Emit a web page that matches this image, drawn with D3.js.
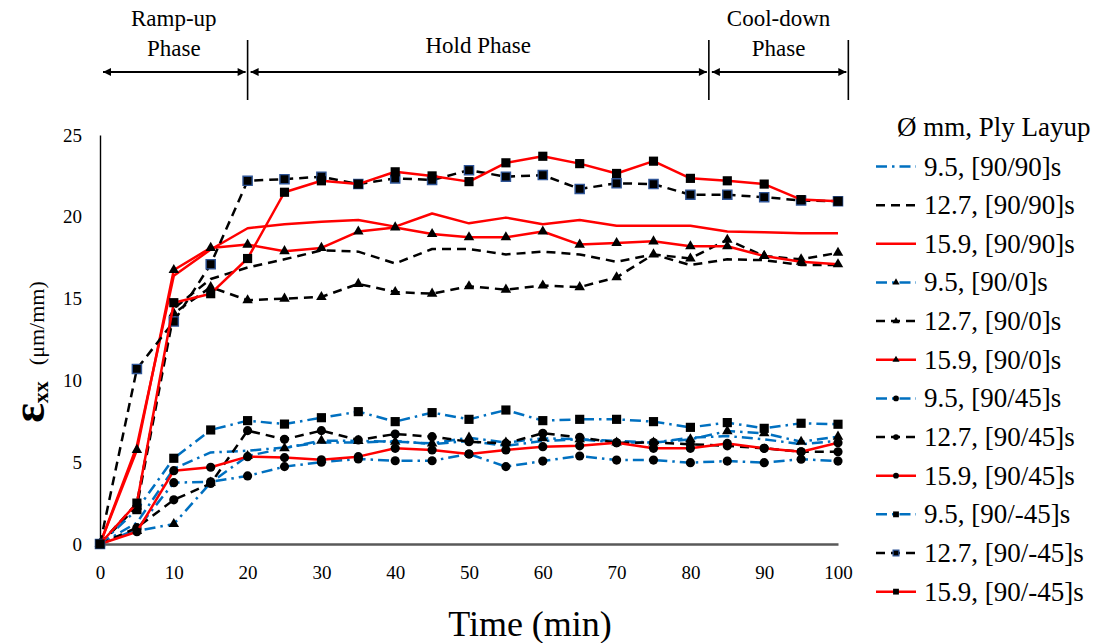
<!DOCTYPE html>
<html>
<head>
<meta charset="utf-8">
<script src="https://cdn.jsdelivr.net/npm/d3@7"></script>
<style>
  body { margin: 0; background: #fff; }
  svg { display: block; }
  text { font-family: "Liberation Serif", "Times New Roman", serif; fill: #000; }
</style>
</head>
<body>
<svg id="chart" width="1097" height="643"></svg>
<script>
// Sampling times (min)
const minutes = [0, 5, 10, 15, 20, 25, 30, 35, 40, 45, 50, 55, 60, 65, 70, 75, 80, 85, 90, 95, 100];

// Strain (µm/mm) per hole diameter and ply layup
const s95_9090   = [0, 1.3, 4.6, 5.6, 5.7, 5.9, 6.2, 6.2, 6.3, 6.1, 6.3, 6.0, 6.3, 6.4, 6.3, 6.2, 6.5, 6.6, 6.4, 6.1, 6.3];
const s127_9090  = [0, 2.5, 14.4, 16.2, 16.9, 17.4, 17.95, 17.87, 17.15, 18.03, 18.03, 17.7, 17.87, 17.7, 17.25, 17.7, 17.05, 17.4, 17.35, 17.05, 17.05];
const s159_9090  = [0, 6.0, 16.4, 18.0, 19.3, 19.55, 19.7, 19.8, 19.4, 20.2, 19.6, 19.95, 19.55, 19.8, 19.45, 19.45, 19.45, 19.1, 19.05, 19.0, 19.0];
const s95_900    = [0, 0.8, 1.22, 3.75, 5.38, 5.85, 6.32, 6.3, 6.25, 6.15, 6.5, 6.2, 6.46, 6.4, 6.2, 6.2, 6.4, 6.9, 6.77, 6.25, 6.56];
const s127_900   = [0, 2.3, 14.1, 15.7, 14.9, 15.0, 15.1, 15.9, 15.4, 15.3, 15.75, 15.55, 15.8, 15.7, 16.3, 17.7, 17.45, 18.6, 17.6, 17.4, 17.8];
const s159_900   = [0, 5.75, 16.75, 18.1, 18.3, 17.9, 18.1, 19.1, 19.35, 18.95, 18.75, 18.75, 19.1, 18.3, 18.4, 18.5, 18.2, 18.2, 17.6, 17.25, 17.1];
const s95_9045   = [0, 0.9, 3.75, 3.8, 4.16, 4.73, 5.0, 5.2, 5.09, 5.09, 5.5, 4.73, 5.07, 5.38, 5.13, 5.13, 4.97, 5.07, 4.97, 5.18, 5.07];
const s127_9045  = [0, 1.0, 2.7, 3.7, 6.93, 6.4, 6.93, 6.36, 6.72, 6.56, 6.25, 6.15, 6.77, 6.52, 6.19, 6.2, 6.1, 6.0, 5.85, 5.64, 5.64];
const s159_9045  = [0, 0.75, 4.48, 4.69, 5.34, 5.28, 5.15, 5.34, 5.85, 5.75, 5.5, 5.75, 5.95, 6.0, 6.19, 5.85, 5.85, 6.15, 5.85, 5.64, 6.19];
const s95_90m45  = [0, 2.1, 5.24, 6.97, 7.54, 7.33, 7.72, 8.09, 7.48, 8.03, 7.62, 8.19, 7.54, 7.62, 7.62, 7.48, 7.13, 7.42, 7.07, 7.38, 7.32];
const s127_90m45 = [0, 10.7, 13.6, 17.1, 22.2, 22.3, 22.45, 22.0, 22.35, 22.25, 22.85, 22.45, 22.55, 21.7, 22.05, 22.0, 21.35, 21.35, 21.2, 21.0, 20.95];
const s159_90m45 = [0, 2.5, 14.75, 15.3, 17.45, 21.5, 22.2, 22.0, 22.75, 22.5, 22.15, 23.3, 23.7, 23.25, 22.65, 23.4, 22.35, 22.2, 22.0, 21.05, 20.95];

const seriesNames = [
  "9.5, [90/90]s", "12.7, [90/90]s", "15.9, [90/90]s",
  "9.5, [90/0]s", "12.7, [90/0]s", "15.9, [90/0]s",
  "9.5, [90/45]s", "12.7, [90/45]s", "15.9, [90/45]s",
  "9.5, [90/-45]s", "12.7, [90/-45]s", "15.9, [90/-45]s"
];
const seriesValues = [
  s95_9090, s127_9090, s159_9090,
  s95_900, s127_900, s159_900,
  s95_9045, s127_9045, s159_9045,
  s95_90m45, s127_90m45, s159_90m45
];

const xTicks = [0, 10, 20, 30, 40, 50, 60, 70, 80, 90, 100];
const yTicks = [0, 5, 10, 15, 20, 25];

// Test phases: boundaries in minutes and their captions
const phaseBounds = [0, 20, 82.5, 101.4];
const phaseNames = [["Ramp-up", "Phase"], ["Hold Phase"], ["Cool-down", "Phase"]];

// Line style by diameter, marker by layup
const diameterStyle = {
  "9.5":  { color: "#0070c0", dash: "11,5,2.5,5" },
  "12.7": { color: "#000000", dash: "9,6" },
  "15.9": { color: "#ff0000", dash: null }
};
const layupMarker = { "[90/90]s": null, "[90/0]s": "triangle", "[90/45]s": "circle", "[90/-45]s": "square" };

const series = seriesNames.map((name, i) => {
  const [dia, layup] = name.split(", ");
  return {
    name,
    dia,
    values: seriesValues[i],
    ...diameterStyle[dia],
    marker: layupMarker[layup]
  };
});

const svg = d3.select("#chart");
const x = d3.scaleLinear().domain([0, 100]).range([100, 838]);
const y = d3.scaleLinear().domain([0, 25]).range([544, 135]);

// Axes
const xAxis = svg.append("g")
  .attr("transform", `translate(0,${y(0)})`)
  .call(d3.axisBottom(x).tickValues(xTicks).tickSize(0).tickSizeOuter(0).tickPadding(22));
xAxis.select(".domain").attr("stroke", "#595959").attr("stroke-width", 2.4);
xAxis.selectAll("text").style("font-size", "19px").style("font-family", "'Liberation Serif', serif");

const yAxis = svg.append("g")
  .attr("transform", `translate(${x(0)},0)`)
  .call(d3.axisLeft(y).tickValues(yTicks).tickSize(0).tickSizeOuter(0).tickPadding(18));
yAxis.select(".domain").attr("stroke", "#000").attr("stroke-width", 1.4);
yAxis.selectAll("text").style("font-size", "19px").style("font-family", "'Liberation Serif', serif");

// Axis titles
svg.append("text")
  .attr("x", 530).attr("y", 636)
  .attr("text-anchor", "middle")
  .style("font-size", "36px")
  .text("Time (min)");

const yTitle = svg.append("text")
  .attr("transform", `translate(44,352) rotate(-90)`)
  .attr("text-anchor", "middle");
yTitle.append("tspan").style("font-size", "46px").style("font-weight", "bold").text("ε");
yTitle.append("tspan").style("font-size", "22px").style("font-weight", "bold").attr("dy", 4).text("xx");
yTitle.append("tspan").style("font-size", "22px").attr("dy", -4).attr("dx", 16).text("(μm/mm)");

// Marker symbols
const symbolFor = {
  triangle: d3.symbol(d3.symbolTriangle, 48),
  circle: d3.symbol(d3.symbolCircle, 66),
  square: d3.symbol(d3.symbolSquare, 84)
};
const legendSymbolFor = {
  triangle: d3.symbol(d3.symbolTriangle, 22),
  circle: d3.symbol(d3.symbolCircle, 26),
  square: d3.symbol(d3.symbolSquare, 34)
};

const line = d3.line().x((d, i) => x(minutes[i])).y(d => y(d));

// Series lines and markers (later series drawn on top)
const plot = svg.append("g");
series.forEach(s => {
  const g = plot.append("g");
  g.append("path")
    .attr("d", line(s.values))
    .attr("fill", "none")
    .attr("stroke", s.color)
    .attr("stroke-width", 2.5)
    .attr("stroke-dasharray", s.dash)
    .attr("stroke-linejoin", "round");
  if (s.marker) {
    g.selectAll("path.mk")
      .data(s.values)
      .join("path")
      .attr("class", "mk")
      .attr("transform", (d, i) => `translate(${x(minutes[i])},${y(d)})`)
      .attr("d", symbolFor[s.marker])
      .attr("fill", "#000")
      .attr("stroke", s.dia === "12.7" && s.marker === "square" ? "#2f5597" : "none")
      .attr("stroke-width", 1.4);
  }
});

// Phase annotations above the plot
const defs = svg.append("defs");
defs.append("marker")
  .attr("id", "arrowEnd").attr("viewBox", "0 0 10 10")
  .attr("refX", 10).attr("refY", 5)
  .attr("markerWidth", 9).attr("markerHeight", 8)
  .attr("markerUnits", "userSpaceOnUse")
  .attr("orient", "auto")
  .append("path").attr("d", "M0,0L10,5L0,10Z").attr("fill", "#000");
defs.append("marker")
  .attr("id", "arrowStart").attr("viewBox", "0 0 10 10")
  .attr("refX", 0).attr("refY", 5)
  .attr("markerWidth", 9).attr("markerHeight", 8)
  .attr("markerUnits", "userSpaceOnUse")
  .attr("orient", "auto")
  .append("path").attr("d", "M10,0L0,5L10,10Z").attr("fill", "#000");

const phases = svg.append("g");
phaseBounds.slice(1).forEach(b => {
  phases.append("line")
    .attr("x1", x(b)).attr("x2", x(b))
    .attr("y1", 40).attr("y2", 100)
    .attr("stroke", "#000").attr("stroke-width", 1.6);
});
phaseNames.forEach((lines, i) => {
  const x0 = x(phaseBounds[i]), x1 = x(phaseBounds[i + 1]);
  phases.append("line")
    .attr("x1", x0 + 3).attr("x2", x1 - 2)
    .attr("y1", 72).attr("y2", 72)
    .attr("stroke", "#000").attr("stroke-width", 2)
    .attr("marker-start", "url(#arrowStart)")
    .attr("marker-end", "url(#arrowEnd)");
  const cx = (x0 + x1) / 2;
  const baselines = lines.length === 2 ? [26, 56] : [53];
  lines.forEach((t, j) => {
    phases.append("text")
      .attr("x", cx).attr("y", baselines[j])
      .attr("text-anchor", "middle")
      .style("font-size", "23px")
      .text(t);
  });
});

// Legend
const legend = svg.append("g");
legend.append("text")
  .attr("x", 897).attr("y", 136)
  .style("font-size", "27px")
  .text("Ø mm, Ply Layup");
series.forEach((s, i) => {
  const cy = 166.5 + i * 38.65;
  const g = legend.append("g");
  g.append("line")
    .attr("x1", 876).attr("x2", 916)
    .attr("y1", cy).attr("y2", cy)
    .attr("stroke", s.color)
    .attr("stroke-width", 2.5)
    .attr("stroke-dasharray", s.dash);
  if (s.marker) {
    g.append("path")
      .attr("transform", `translate(896,${cy})`)
      .attr("d", legendSymbolFor[s.marker])
      .attr("fill", "#000")
      .attr("stroke", s.dia === "12.7" && s.marker === "square" ? "#2f5597" : "none")
      .attr("stroke-width", 1.2);
  }
  g.append("text")
    .attr("x", 924).attr("y", cy + 9)
    .style("font-size", "27px")
    .text(s.name);
});
</script>
</body>
</html>
